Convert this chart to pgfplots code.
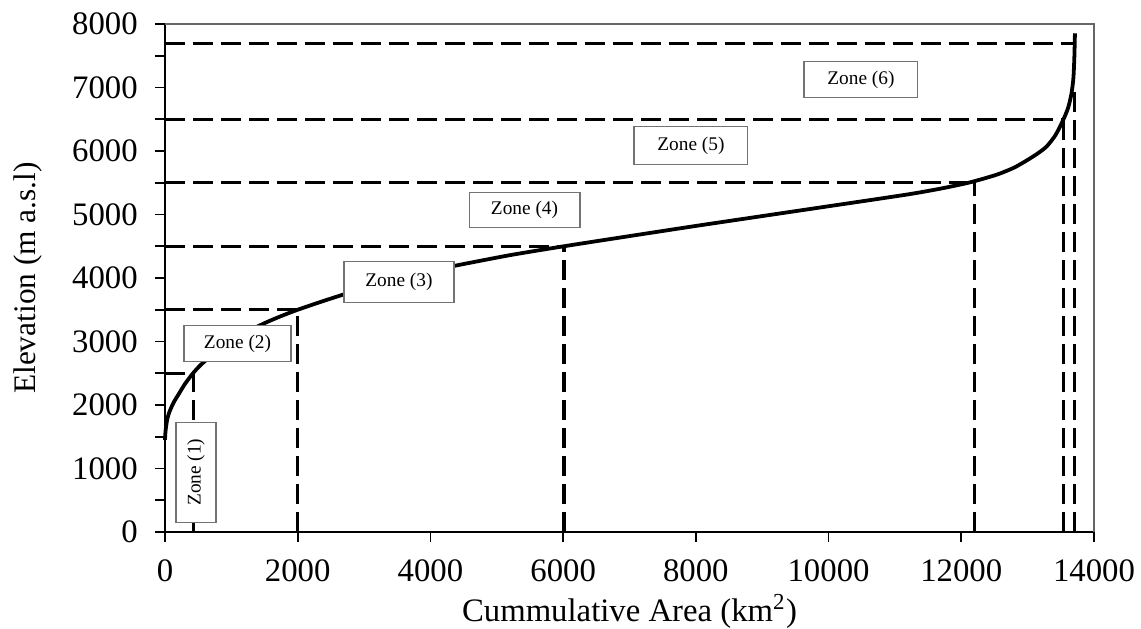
\documentclass[border=0pt]{standalone}
\usepackage{fontspec}
\setmainfont{Liberation Serif}
\usepackage{pgfplots}
\pgfplotsset{compat=1.18}
\tikzset{
  zone/.style={draw=black!55, fill=white, line width=0.4pt, inner sep=0pt, font=\fontsize{6.9}{8}\selectfont},
  dashln/.style={black, line width=1.1pt, dash pattern=on 7.1pt off 2.9pt},
}
\begin{document}
\begin{tikzpicture}
\begin{axis}[
  name=ax, at={(0,0)}, anchor=south west,
  scale only axis, width=331.79pt, height=181.43pt,
  xmin=0, xmax=14000, ymin=0, ymax=8000,
  axis lines=left, axis line style={-, line width=0.7pt, black},
  xtick={0,2000,...,14000}, ytick={0,1000,...,8000},
  minor y tick num=1,
  tick align=outside, major tick length=3.6pt, minor tick length=3.6pt,
  every tick/.style={black, line width=0.6pt},
  /pgf/number format/assume math mode=true,
  /pgf/number format/set thousands separator={},
  scaled ticks=false,
  tick label style={font=\fontsize{11.7}{14}\selectfont},
  yticklabel style={xshift=-2.6pt},
  xticklabel style={yshift=-2.9pt},
  xlabel={Cummulative Area (km\textsuperscript{2})},
  ylabel={Elevation (m a.s.l)},
  every axis y label/.style={at={(axis description cs:-0.147,0.5)}, rotate=90, anchor=center, font=\fontsize{11.2}{14}\selectfont},
  every axis x label/.style={at={(axis description cs:0.5,-0.157)}, anchor=center, font=\fontsize{11.7}{14}\selectfont},
  clip=false,
]
% horizontal dashed lines
\addplot[dashln] coordinates {(0,2500) (422,2500)};
\addplot[dashln] coordinates {(0,3500) (2000,3500)};
\addplot[dashln] coordinates {(0,4500) (6013,4500)};
\addplot[dashln] coordinates {(0,5500) (12131,5500)};
\addplot[dashln] coordinates {(0,6500) (13537,6500)};
\addplot[dashln] coordinates {(0,7700) (13713,7700)};
% vertical dashed lines
\addplot[dashln] coordinates {(430,0) (430,2500)};
\addplot[dashln] coordinates {(2000,0) (2000,3500)};
\addplot[dashln] coordinates {(6013,0) (6013,4500)};
\addplot[dashln] coordinates {(12206,0) (12206,5500)};
\addplot[dashln] coordinates {(13537,0) (13537,6500)};
\addplot[dashln] coordinates {(13703,0) (13703,6950)};
% hypsometric curve
\addplot[black, line width=1.35pt, smooth, tension=0.4] coordinates {
 (0,1450) (5,1550) (15,1650) (35,1780) (70,1900) (132,2043) (200,2160)
 (300,2330) (422,2500) (547,2640) (750,2820) (1000,3000) (1250,3160)
 (1516,3296) (1750,3400) (2000,3500) (2350,3625) (2693,3741) (3100,3870)
 (3500,3980) (3900,4090) (4355,4190) (5200,4360) (6013,4500) (7000,4660)
 (8000,4820) (9000,4975) (10000,5130) (10775,5250) (11276,5330)
 (11700,5410) (12131,5506) (12534,5627) (12800,5740) (13000,5860) (13150,5960)
 (13287,6072) (13420,6250) (13537,6491) (13610,6680) (13660,6900) (13690,7150)
 (13705,7500) (13713,7854)
};
% frame top and right
\draw[black!60, line width=0.4pt] (rel axis cs:0,1) -- (rel axis cs:1,1) -- (rel axis cs:1,0);
% zone labels
\node[zone, minimum width=40.7pt, minimum height=12.9pt] at (axis cs:10488,7128) {Zone (6)};
\node[zone, minimum width=40.7pt, minimum height=13.6pt] at (axis cs:7926,6083) {Zone (5)};
\node[zone, minimum width=39.6pt, minimum height=12.5pt] at (axis cs:5418,5069) {Zone (4)};
\node[zone, minimum width=39.3pt, minimum height=14.6pt] at (axis cs:3526,3937) {Zone (3)};
\node[zone, minimum width=38.2pt, minimum height=12.9pt] at (axis cs:1093,2970) {Zone (2)};
\node[zone, minimum width=35.7pt, minimum height=14.3pt, rotate=90] at (axis cs:467,943) {Zone (1)};
\end{axis}
\pgfresetboundingbox
\path[use as bounding box] (-58.93pt,-34.64pt) rectangle (348.58pt,190pt);
\end{tikzpicture}
\end{document}
